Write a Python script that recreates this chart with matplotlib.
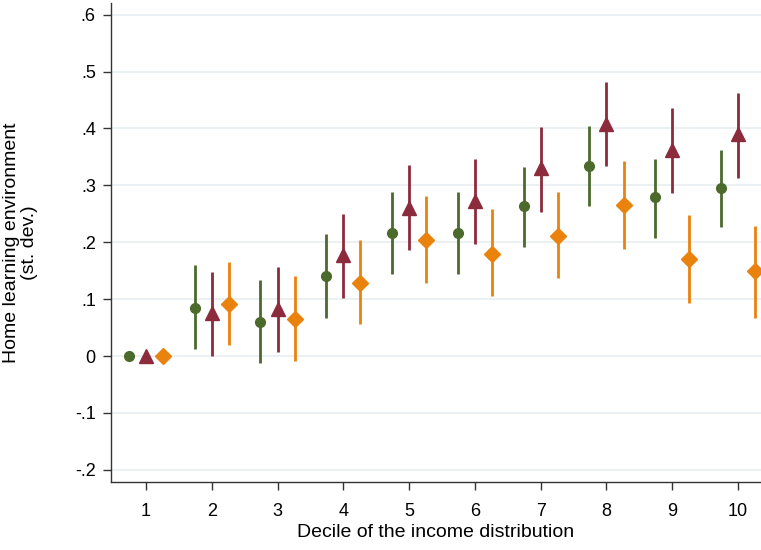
import numpy as np
import matplotlib.pyplot as plt

plt.rcParams['font.family'] = ['Liberation Sans', 'DejaVu Sans']

deciles = np.arange(1, 11)
xticklabels = [str(d) for d in deciles]
ytick_vals = [-0.2, -0.1, 0.0, 0.1, 0.2, 0.3, 0.4, 0.5, 0.6]
ytick_labels = ['-.2', '-.1', '0', '.1', '.2', '.3', '.4', '.5', '.6']

# series 1 (green circles)
green_est = [0.0, 0.085, 0.060, 0.140, 0.217, 0.217, 0.263, 0.334, 0.279, 0.296]
green_lo = [0.0, 0.012, -0.012, 0.067, 0.145, 0.145, 0.192, 0.263, 0.208, 0.226]
green_hi = [0.0, 0.160, 0.134, 0.215, 0.289, 0.288, 0.333, 0.405, 0.347, 0.363]

# series 2 (maroon triangles)
red_est = [0.0, 0.075, 0.083, 0.177, 0.260, 0.272, 0.330, 0.408, 0.362, 0.390]
red_lo = [0.0, 0.000, 0.008, 0.102, 0.186, 0.197, 0.254, 0.334, 0.287, 0.313]
red_hi = [0.0, 0.148, 0.157, 0.250, 0.335, 0.346, 0.402, 0.482, 0.436, 0.463]

# series 3 (orange diamonds)
orange_est = [0.0, 0.092, 0.065, 0.129, 0.204, 0.180, 0.211, 0.265, 0.170, 0.149]
orange_lo = [0.0, 0.019, -0.008, 0.056, 0.129, 0.106, 0.138, 0.188, 0.093, 0.067]
orange_hi = [0.0, 0.165, 0.140, 0.204, 0.281, 0.258, 0.289, 0.342, 0.248, 0.228]

fig = plt.figure(figsize=(7.61, 5.5), dpi=100)
ax = fig.add_axes([0.146, 0.124, 0.854, 0.871])

series = [
    (green_est, green_lo, green_hi, -0.26, '#4b6a2b', 'o', 7),
    (red_est, red_lo, red_hi, 0.0, '#8c2b3c', '^', 10),
    (orange_est, orange_lo, orange_hi, 0.26, '#ea820e', 'D', 8),
]
for est, lo, hi, off, col, mk, ms in series:
    est = np.array(est)
    lo = np.array(lo)
    hi = np.array(hi)
    x = deciles + off
    ax.vlines(x, lo, hi, color=col, lw=2, zorder=2)
    ax.plot(x, est, ls='none', marker=mk, ms=ms, color=col, mec=col, zorder=3)

ax.set_xlim(0.47, 10.35)
ax.set_ylim(-0.221, 0.621)
ax.set_xticks(deciles)
ax.set_xticklabels(xticklabels)
ax.set_yticks(ytick_vals)
ax.set_yticklabels(ytick_labels)
ax.yaxis.grid(True, color='#e8eff1', lw=1.2)
ax.set_axisbelow(True)
for s in ['top', 'right']:
    ax.spines[s].set_visible(False)
for s in ['left', 'bottom']:
    ax.spines[s].set_color('#333333')
    ax.spines[s].set_linewidth(1.0)
ax.tick_params(direction='out', length=6, width=1, colors='#333333', labelcolor='black', labelsize=13, pad=5)
ax.tick_params(axis='x', pad=9)
ax.set_xlabel('Decile of the income distribution', fontsize=14, labelpad=3)
ax.set_ylabel('Home learning environment\n(st. dev.)', fontsize=14, linespacing=1.1)
ax.yaxis.set_label_coords(-0.112, 0.5)

fig.savefig('out.png', dpi=100)
